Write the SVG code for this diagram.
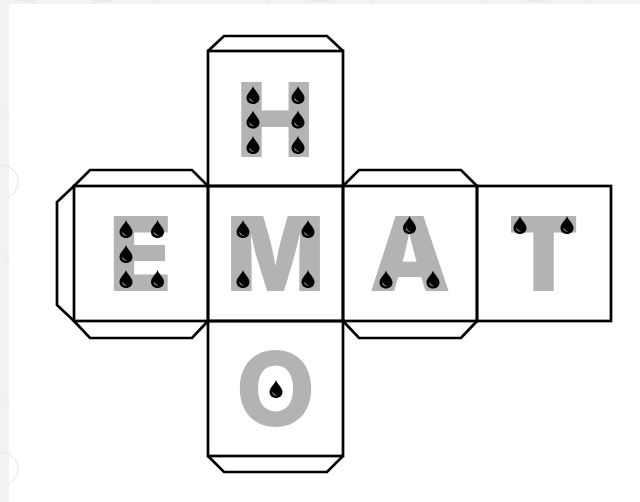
<svg xmlns="http://www.w3.org/2000/svg" width="640" height="502" viewBox="0 0 640 502">
<style>
.ln{fill:none;stroke:#000;stroke-width:2.7;stroke-linejoin:miter}
.face{fill:none;stroke:#000;stroke-width:2.7}
.lt{font-family:Inter,"Liberation Sans",sans-serif;font-weight:900;font-size:103px;fill:#b3b3b3;text-anchor:middle}
.arc{fill:none;stroke:#e4e4e4;stroke-width:1}
</style>
<defs>
<g id="drop">
<path d="M0 0C1 4 6.500 7.500 6.500 12C6.500 15.800 3.600 18 0 18C-3.600 18 -6.500 15.800 -6.500 12C-6.500 7.500 -1 4 0 0Z" fill="#000"/>
<path d="M-3.600 11.500C-3.800 14.200 -1.600 15.900 1 15.600C-0.900 15.200 -2.600 13.800 -3.600 11.500Z" fill="#fff" opacity="0.85"/>
</g>
</defs>
<rect width="640" height="502" fill="#f2f2f2"/>
<rect x="9" y="4" width="631" height="498" fill="#fff"/>
<g id="background-marks">
<path class="arc" d="M0 165A17 17 0 0 1 9 197M0 452A17 17 0 0 1 9 484M0 108Q5 114 9 118M0 252Q5 256 9 262M0 396Q5 402 9 406"/>
<path class="arc" d="M18 0Q27 3 36 0M92 0Q102 3 112 0M154 0V4M269 0V4M310 0Q320 3 330 0M372 0V4M486 0V4M527 0Q537 3 547 0M590 0V4"/>
</g>
<g id="node-h">
<rect class="face" x="208" y="51" width="135" height="135"/>
<text class="lt" x="275" y="157">H</text>
<use href="#drop" x="253" y="86"/><use href="#drop" x="298" y="86"/>
<use href="#drop" x="253" y="110.500"/><use href="#drop" x="298" y="110.500"/>
<use href="#drop" x="253" y="136"/><use href="#drop" x="298" y="136"/>
</g>
<g id="node-e">
<rect class="face" x="74" y="186" width="134" height="135"/>
<text class="lt" x="140.500" y="291">E</text>
<use href="#drop" x="126" y="220"/><use href="#drop" x="157.500" y="220"/>
<use href="#drop" x="126" y="245"/>
<use href="#drop" x="126" y="270"/><use href="#drop" x="157.500" y="270"/>
</g>
<g id="node-m">
<rect class="face" x="208" y="186" width="135" height="135"/>
<text class="lt" x="275.500" y="291">M</text>
<use href="#drop" x="243" y="220"/><use href="#drop" x="308" y="220"/>
<use href="#drop" x="243" y="270"/><use href="#drop" x="308" y="270"/>
</g>
<g id="node-a">
<rect class="face" x="343" y="186" width="134" height="135"/>
<text class="lt" x="410" y="291">A</text>
<use href="#drop" x="409.500" y="216"/>
<use href="#drop" x="386" y="270.500"/><use href="#drop" x="433" y="270.500"/>
</g>
<g id="node-t">
<rect class="face" x="477" y="186" width="134" height="135"/>
<text class="lt" x="543.500" y="291">T</text>
<use href="#drop" x="520" y="216"/><use href="#drop" x="567" y="216"/>
</g>
<g id="node-o">
<rect class="face" x="208" y="321" width="135" height="135"/>
<text class="lt" x="275.500" y="426" style="font-weight:800">O</text>
<use href="#drop" x="276" y="380"/>
</g>
<g id="connectors">
<path class="ln" d="M208 51L224 36H327L343 51"/>
<path class="ln" d="M74 186L90 170H192L208 186"/>
<path class="ln" d="M74 321L90 338H192L208 321"/>
<path class="ln" d="M74 186L57 202V305L74 321"/>
<path class="ln" d="M343 186L359 170H461L477 186"/>
<path class="ln" d="M343 321L359 338H461L477 321"/>
<path class="ln" d="M208 456L224 472H327L343 456"/>
</g>
</svg>
